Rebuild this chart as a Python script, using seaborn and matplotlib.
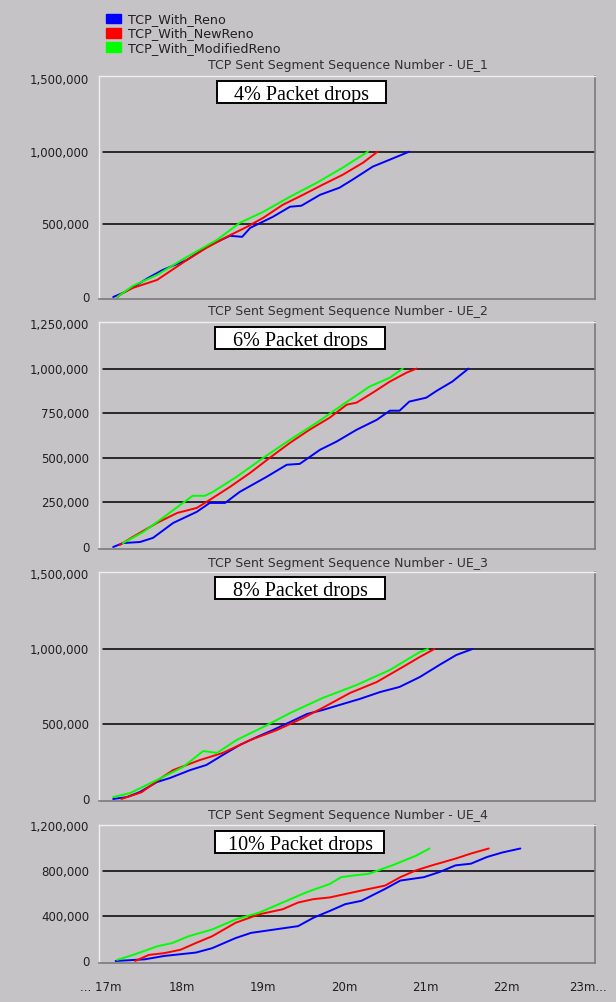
import numpy as np
import pandas as pd
import matplotlib
matplotlib.use('Agg')
import matplotlib.pyplot as plt
import seaborn as sns
from matplotlib.patches import Rectangle, Patch

sns.set_theme(style='white')
plt.rcParams['font.family'] = ['DejaVu Sans']

# ---- 数据 (时间: 分钟, 序号: bytes) ----
series_names = ['TCP_With_Reno', 'TCP_With_NewReno', 'TCP_With_ModifiedReno']
colors = {'TCP_With_Reno': '#0000ff', 'TCP_With_NewReno': '#ff0000',
          'TCP_With_ModifiedReno': '#00ff00'}
panel_titles = ['TCP Sent Segment Sequence Number - UE_1',
                'TCP Sent Segment Sequence Number - UE_2',
                'TCP Sent Segment Sequence Number - UE_3',
                'TCP Sent Segment Sequence Number - UE_4']
drop_labels = ['4% Packet drops', '6% Packet drops', '8% Packet drops', '10% Packet drops']

# UE_1
ue1_reno_t = [17.15, 17.27, 17.38, 17.58, 17.76, 18.06, 18.30, 18.59, 18.74, 18.84, 19.12, 19.33,
              19.47, 19.70, 19.94, 20.10, 20.35, 20.56, 20.80]
ue1_reno_v = [0, 28e3, 62e3, 131e3, 186e3, 255e3, 345e3, 421e3, 414e3, 476e3, 552e3, 621e3,
              628e3, 703e3, 752e3, 807e3, 897e3, 945e3, 1000e3]
ue1_newreno_t = [17.20, 17.27, 17.39, 17.69, 18.06, 18.30, 18.55, 18.80, 19.00, 19.24, 19.49, 19.73,
                 19.98, 20.23, 20.41]
ue1_newreno_v = [0, 28e3, 62e3, 117e3, 255e3, 338e3, 414e3, 483e3, 545e3, 634e3, 703e3, 772e3,
                 841e3, 924e3, 1000e3]
ue1_mod_t = [17.20, 17.39, 17.69, 18.06, 18.43, 18.71, 19.00, 19.33, 19.66, 19.98, 20.29]
ue1_mod_v = [0, 76e3, 152e3, 276e3, 393e3, 510e3, 586e3, 690e3, 786e3, 890e3, 1000e3]

# UE_2
ue2_reno_t = [17.15, 17.27, 17.48, 17.64, 17.89, 18.18, 18.34, 18.53, 18.71, 19.04, 19.29, 19.45,
              19.70, 19.90, 20.15, 20.40, 20.56, 20.68, 20.80, 21.01, 21.14, 21.33, 21.53]
ue2_reno_v = [0, 22e3, 28e3, 51e3, 135e3, 197e3, 247e3, 247e3, 309e3, 393e3, 461e3, 466e3,
              545e3, 590e3, 657e3, 713e3, 764e3, 764e3, 815e3, 837e3, 876e3, 927e3, 1000e3]
ue2_newreno_t = [17.23, 17.39, 17.69, 17.94, 18.18, 18.34, 18.59, 18.84, 19.08, 19.33, 19.57, 19.82,
                 20.03, 20.15, 20.35, 20.56, 20.77, 20.89]
ue2_newreno_v = [11e3, 56e3, 135e3, 191e3, 219e3, 264e3, 337e3, 416e3, 500e3, 584e3, 657e3, 725e3,
                 798e3, 809e3, 865e3, 927e3, 978e3, 1000e3]
ue2_mod_t = [17.27, 17.52, 17.76, 18.01, 18.13, 18.28, 18.38, 18.67, 19.00, 19.33, 19.66, 19.98,
             20.31, 20.56, 20.72]
ue2_mod_v = [22e3, 84e3, 163e3, 247e3, 287e3, 287e3, 309e3, 393e3, 500e3, 601e3, 697e3, 798e3,
             899e3, 949e3, 1000e3]

# UE_3
ue3_reno_t = [17.15, 17.32, 17.48, 17.69, 17.85, 18.10, 18.30, 18.50, 18.71, 18.92, 19.12, 19.33,
              19.54, 19.73, 19.94, 20.19, 20.44, 20.68, 20.93, 21.17, 21.38, 21.58]
ue3_reno_v = [0, 13e3, 47e3, 113e3, 140e3, 193e3, 227e3, 293e3, 360e3, 413e3, 460e3, 513e3,
              567e3, 593e3, 627e3, 667e3, 713e3, 747e3, 813e3, 893e3, 960e3, 1000e3]
ue3_newreno_t = [17.25, 17.50, 17.76, 17.89, 18.22, 18.50, 18.84, 19.17, 19.49, 19.73, 20.07, 20.40,
                 20.72, 20.93, 21.11]
ue3_newreno_v = [0, 45e3, 147e3, 193e3, 260e3, 307e3, 393e3, 460e3, 540e3, 607e3, 707e3, 780e3,
                 880e3, 947e3, 1000e3]
ue3_mod_t = [17.15, 17.36, 17.69, 18.01, 18.26, 18.43, 18.67, 19.00, 19.33, 19.73, 20.15, 20.56,
             20.93, 21.03]
ue3_mod_v = [13e3, 40e3, 127e3, 213e3, 320e3, 307e3, 393e3, 480e3, 573e3, 673e3, 760e3, 860e3,
             980e3, 1000e3]

# UE_4
ue4_reno_t = [17.18, 17.54, 17.78, 18.17, 18.37, 18.66, 18.85, 19.14, 19.43, 19.62, 19.82, 20.01,
              20.21, 20.50, 20.69, 20.98, 21.17, 21.37, 21.56, 21.76, 21.95, 22.17]
ue4_reno_v = [0, 15e3, 45e3, 75e3, 114e3, 204e3, 250e3, 280e3, 310e3, 385e3, 445e3, 505e3,
              535e3, 640e3, 715e3, 745e3, 790e3, 850e3, 865e3, 925e3, 965e3, 1000e3]
ue4_newreno_t = [17.42, 17.59, 17.78, 17.98, 18.17, 18.37, 18.66, 18.95, 19.24, 19.43, 19.62, 19.82,
                 20.01, 20.30, 20.50, 20.69, 20.88, 21.08, 21.37, 21.56, 21.78]
ue4_newreno_v = [0, 54e3, 70e3, 100e3, 160e3, 220e3, 340e3, 415e3, 460e3, 520e3, 550e3, 565e3,
                 595e3, 640e3, 670e3, 745e3, 805e3, 850e3, 910e3, 955e3, 1000e3]
ue4_mod_t = [17.20, 17.40, 17.69, 17.88, 18.08, 18.37, 18.66, 18.95, 19.24, 19.53, 19.82, 19.96,
             20.11, 20.30, 20.59, 20.88, 21.05]
ue4_mod_v = [10e3, 55e3, 130e3, 160e3, 220e3, 280e3, 370e3, 430e3, 520e3, 610e3, 685e3, 745e3,
             760e3, 775e3, 850e3, 935e3, 1000e3]

y_ticks = [[0, 500000, 1000000, 1500000],
           [0, 250000, 500000, 750000, 1000000, 1250000],
           [0, 500000, 1000000, 1500000],
           [0, 400000, 800000, 1200000]]
x_ticks = [17, 18, 19, 20, 21, 22, 23]
x_ticklabels = ['... 17m', '18m', '19m', '20m', '21m', '22m', '23m...']

panels = [
    [(ue1_reno_t, ue1_reno_v), (ue1_newreno_t, ue1_newreno_v), (ue1_mod_t, ue1_mod_v)],
    [(ue2_reno_t, ue2_reno_v), (ue2_newreno_t, ue2_newreno_v), (ue2_mod_t, ue2_mod_v)],
    [(ue3_reno_t, ue3_reno_v), (ue3_newreno_t, ue3_newreno_v), (ue3_mod_t, ue3_mod_v)],
    [(ue4_reno_t, ue4_reno_v), (ue4_newreno_t, ue4_newreno_v), (ue4_mod_t, ue4_mod_v)],
]

# ---- 布局 (像素) ----
W, H = 616, 1002
BG = '#c6c3c6'
fig = plt.figure(figsize=(W / 100, H / 100), dpi=100, facecolor=BG)

# 每个面板: (top px, bottom px, ylim)
panel_px = [(76, 299, (-13800, 1520600)),
            (322, 549, (-11200, 1261200)),
            (572, 801, (-13300, 1513300)),
            (825, 963, (-17800, 1208900))]
title_y = [66, 312, 563, 815]
box_px = [(217, 81, 386, 103), (215, 327, 385, 349), (215, 577, 385, 599), (215, 831, 384, 853)]
ax_left, ax_right = 99, 595


def fx(px):
    return px / W


def fy(py):
    return 1 - py / H


for i, (top, bot, ylim) in enumerate(panel_px):
    ax = fig.add_axes([fx(ax_left), fy(bot), fx(ax_right - ax_left), (bot - top) / H])
    ax.set_facecolor(BG)

    rows = []
    for name, (t, v) in zip(series_names, panels[i]):
        rows.append(pd.DataFrame({'time': t, 'seq': v, 'series': name}))
    df = pd.concat(rows, ignore_index=True)

    sns.lineplot(data=df, x='time', y='seq', hue='series', palette=colors,
                 linewidth=1.4, estimator=None, sort=False, legend=False, ax=ax, zorder=3)

    ax.set_xlim(16.975, 23.09)
    ax.set_ylim(*ylim)
    ax.set_yticks(y_ticks[i])
    ax.set_yticklabels([f'{v:,}' for v in y_ticks[i]], fontsize=8.5, color='#202020')
    ax.tick_params(axis='y', length=0, pad=7)
    for v in y_ticks[i][1:-1]:
        ax.axhline(v, xmin=0.008, color='black', linewidth=1.1, zorder=2)
    ax.set_xlabel('')
    ax.set_ylabel('')

    if i == 3:
        ax.set_xticks(x_ticks)
        ax.set_xticklabels(x_ticklabels, fontsize=8.5, color='#202020')
        ax.tick_params(axis='x', length=6, width=1, color='#202020', pad=7, direction='out')
    else:
        ax.set_xticks([])

    for side in ['left', 'top']:
        ax.spines[side].set_color('#f0f0f0')
        ax.spines[side].set_linewidth(1)
    for side in ['right', 'bottom']:
        ax.spines[side].set_color('#7a7a7a')
        ax.spines[side].set_linewidth(1.2)

    fig.text(fx(348), fy(title_y[i]), panel_titles[i], ha='center', va='center',
             fontsize=9, color='#303030')

    # 白色文本框
    x0, y0, x1, y1 = box_px[i]
    rect = Rectangle((fx(x0), fy(y1)), fx(x1 - x0), (y1 - y0) / H, transform=fig.transFigure,
                     facecolor='white', edgecolor='black', linewidth=1.4, zorder=10)
    fig.add_artist(rect)
    txt = fig.text(fx((x0 + x1) / 2 + 0.5), fy(y1 - 3), drop_labels[i], ha='center', va='baseline',
                   fontsize=14.5, family=['Liberation Serif', 'DejaVu Serif'], color='black', zorder=11)
    txt.set_clip_path(rect)

# 图例
handles = [Patch(facecolor=colors[n], edgecolor=colors[n]) for n in series_names]
fig.legend(handles, series_names, loc='upper left', bbox_to_anchor=(fx(106), fy(13)),
           frameon=False, fontsize=9.2, handlelength=1.2, handleheight=0.8, handletextpad=0.55,
           labelspacing=0.1, borderaxespad=0, borderpad=0, labelcolor='#202020')

fig.savefig('out.png', dpi=100, facecolor=BG)
